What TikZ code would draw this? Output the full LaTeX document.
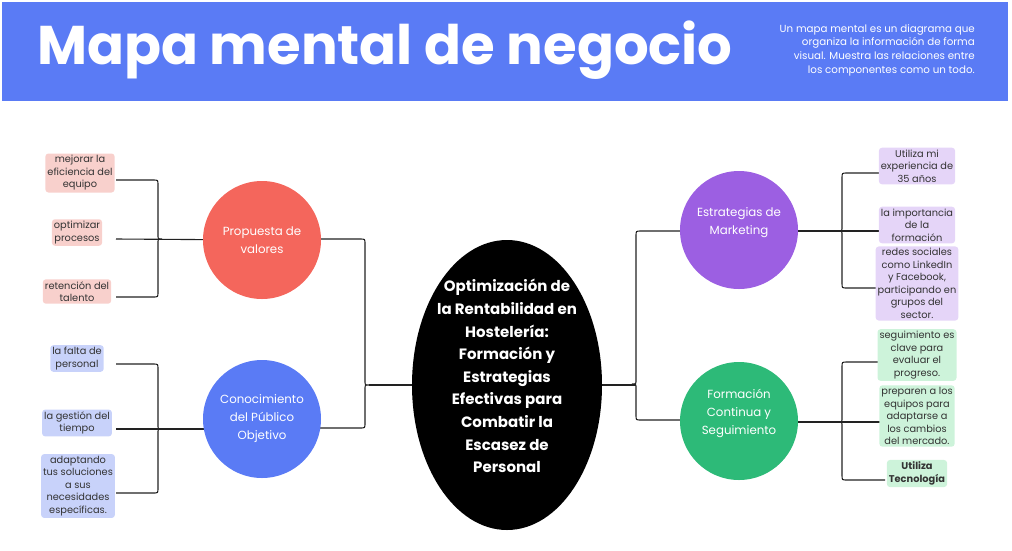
\documentclass[tikz,border=0pt]{standalone}
\usepackage{fontspec}
\setmainfont{Poppins}
\usetikzlibrary{shapes.geometric,backgrounds,calc}
\definecolor{hdr}{HTML}{5A7BF5}
\definecolor{cRed}{HTML}{F4665C}
\definecolor{cBlue}{HTML}{5A7BF5}
\definecolor{cPurple}{HTML}{9C5FE2}
\definecolor{cGreen}{HTML}{2DBA78}
\definecolor{fRed}{HTML}{F8D0CC}
\definecolor{fBlue}{HTML}{C8D2FA}
\definecolor{fPurple}{HTML}{E5D5F8}
\definecolor{fGreen}{HTML}{CDF3DA}
\definecolor{lineC}{HTML}{222222}
% #1 xv, #2 ytop, #3 ymid, #4 ybot, #5 x of horizontal ends, #6 direction (+1 left side, -1 right side)
\newcommand{\mmbrace}[6]{%
  \draw[conn] (#5,#2) -- ({#1-#6*5},#2) .. controls (#1,#2) .. (#1,#2+5) -- (#1,#3-4)
    .. controls (#1,#3) .. ({#1+#6*4},#3) .. controls (#1,#3) .. (#1,#3+4)
    -- (#1,#4-5) .. controls (#1,#4) .. ({#1-#6*5},#4) -- (#5,#4);}
\begin{document}
\begin{tikzpicture}[x=1pt,y=-1pt,
  conn/.style={draw=lineC, line width=1.1pt},
  leaf/.style={fill=#1, rounded corners=3pt, inner sep=2pt, align=center, text=black!80,
    font=\fontsize{9.8}{12.5}\selectfont},
  hub/.style={circle, fill=#1, minimum size=118pt, inner sep=0pt, text=white, align=center,
    font=\fontsize{11.8}{18}\selectfont}]
\useasboundingbox (0,0) rectangle (1012,550);
% header
\node[fill=hdr, minimum width=1006pt, minimum height=99pt, inner sep=0pt, anchor=north west] (header) at (2,2) {};
\node[anchor=base west, text=white, inner sep=0pt, font=\fontsize{54.5}{56}\selectfont\bfseries] (title) at (37,64) {Mapa mental de negocio};
\node[anchor=north east, align=right, text=white, inner sep=0pt, font=\fontsize{10.3}{13.7}\selectfont] (desc) at (975,24)
  {Un mapa mental es un diagrama que\\organiza la información de forma\\visual. Muestra las relaciones entre\\los componentes como un todo.};
% central node
\node[ellipse, fill=black, minimum width=190pt, minimum height=290pt, inner sep=0pt] (center) at (507,385) {};
\node[text=white, align=center, inner sep=0pt, font=\fontsize{15}{22.6}\selectfont\bfseries] (ctext) at (507,376)
  {Optimización de\\la Rentabilidad en\\Hostelería:\\Formación y\\Estrategias\\Efectivas para\\Combatir la\\Escasez de\\Personal};
% hubs
\node[hub=cRed] (prop) at (262,240) {Propuesta de\\valores};
\node[hub=cBlue] (cono) at (262,419) {Conocimiento\\del Público\\Objetivo};
\node[hub=cPurple] (mark) at (739,230) {Estrategias de\\Marketing\\\mbox{}};
\node[hub=cGreen] (form) at (739,421) {Formación\\Continua y\\Seguimiento\\\mbox{}};
% leaves left
\node[leaf=fRed] (l1) at (80,173) {mejorar la\\eficiencia del\\equipo};
\node[leaf=fRed] (l2) at (77,232.5) {optimizar\\procesos};
\node[leaf=fRed] (l3) at (77,291.5) {retención del\\talento};
\node[leaf=fBlue] (l4) at (77,358.5) {la falta de\\personal};
\node[leaf=fBlue] (l5) at (77,423) {la gestión del\\tiempo};
\node[leaf=fBlue] (l6) at (78,486) {adaptando\\tus soluciones\\a sus\\necesidades\\específicas.};
% leaves right
\node[leaf=fPurple] (r1) at (917,166) {Utiliza mi\\experiencia de\\35 años};
\node[leaf=fPurple] (r2) at (917,225) {la importancia\\de la\\formación};
\node[leaf=fPurple] (r3) at (917,283.5) {redes sociales\\como LinkedIn\\y Facebook,\\participando en\\grupos del\\sector.};
\node[leaf=fGreen] (r4) at (917,355) {seguimiento es\\clave para\\evaluar el\\progreso.};
\node[leaf=fGreen] (r5) at (917,416) {preparen a los\\equipos para\\adaptarse a\\los cambios\\del mercado.};
\node[leaf=fGreen, font=\fontsize{9.8}{12.5}\selectfont\bfseries] (r6) at (917,473.5) {Utiliza\\Tecnología};
% connectors
\begin{pgfonlayer}{background}
  % main left bracket
  \mmbrace{365}{239}{385}{428}{262}{1}
  \draw[conn] (center.west) -- ++(-43,0);
  % main right bracket
  \mmbrace{636}{231}{384}{420}{739}{-1}
  \draw[conn] (center.east) -- ++(34,0);
  % Propuesta leaves
  \mmbrace{158}{180}{239}{297}{116}{1}
  \draw[conn] (116,239) -- (prop.center);
  % Conocimiento leaves
  \mmbrace{158}{364}{429}{493}{116}{1}
  \draw[conn] (116,429) -- (cono.center |- 0,429);
  % Marketing leaves
  \mmbrace{842}{173}{231}{288}{885}{-1}
  \draw[conn] (885,231) -- (mark.center |- 0,231);
  % Formacion leaves
  \mmbrace{842}{362}{422}{480}{885}{-1}
  \draw[conn] (885,422) -- (form.center |- 0,422);
\end{pgfonlayer}
\end{tikzpicture}
\end{document}
